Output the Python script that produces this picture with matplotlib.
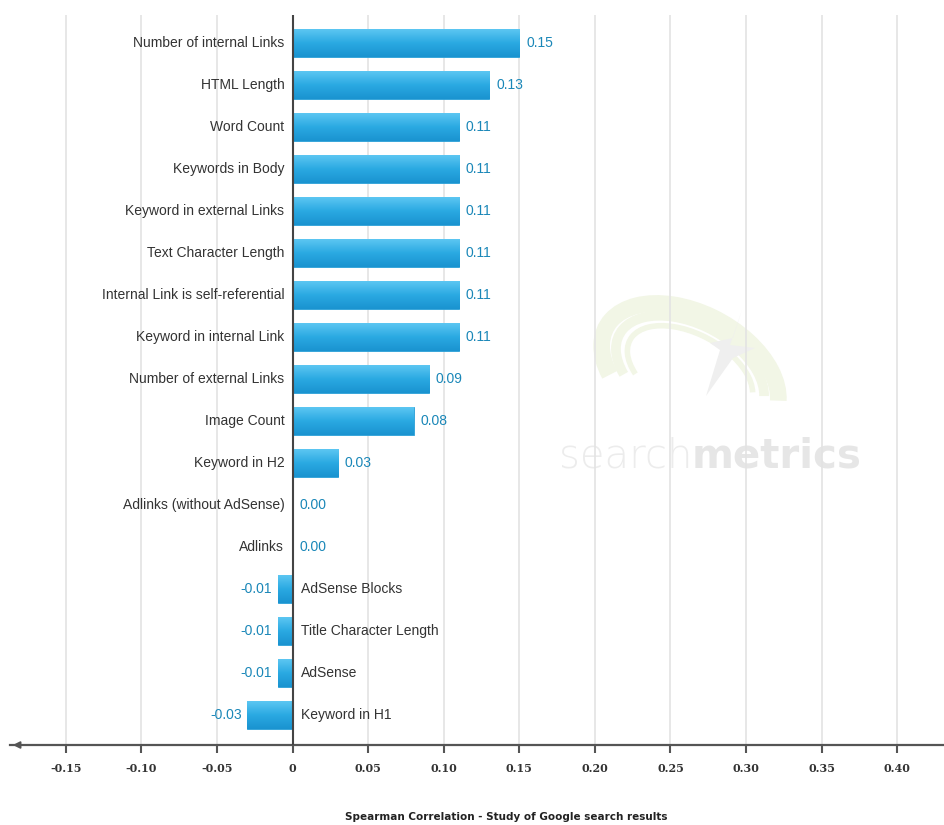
import matplotlib
matplotlib.use("Agg")
import matplotlib.pyplot as plt
from matplotlib.patches import Arc, Polygon
import numpy as np

# data
categories = [
    "Number of internal Links", "HTML Length", "Word Count", "Keywords in Body",
    "Keyword in external Links", "Text Character Length",
    "Internal Link is self-referential", "Keyword in internal Link",
    "Number of external Links", "Image Count", "Keyword in H2",
    "Adlinks (without AdSense)", "Adlinks", "AdSense Blocks",
    "Title Character Length", "AdSense", "Keyword in H1",
]
values = [0.15, 0.13, 0.11, 0.11, 0.11, 0.11, 0.11, 0.11,
          0.09, 0.08, 0.03, 0.00, 0.00, -0.01, -0.01, -0.01, -0.03]
xticks = [-0.15, -0.10, -0.05, 0, 0.05, 0.10, 0.15, 0.20, 0.25, 0.30, 0.35, 0.40]
xlabel = "Spearman Correlation - Study of Google search results"

label_font = "Liberation Sans"
val_color = "#1a87b8"
txt_color = "#333333"

W, H = 944, 825
fig = plt.figure(figsize=(W / 100, H / 100), dpi=100)

# watermark axes (pixel coords), sits behind the chart
wm = fig.add_axes([0, 0, 1, 1], zorder=0)
wm.set_xlim(0, W)
wm.set_ylim(H, 0)
wm.axis("off")
for w, h, lw in [(190, 118, 12), (160, 95, 7), (136, 76, 4)]:
    wm.add_patch(Arc((690, 372), w, h, angle=28, theta1=150, theta2=350,
                     color="#f2f6e6", lw=lw))
wm.add_patch(Polygon([[742, 310], [730, 345], [755, 348], [733, 358],
                      [706, 396], [720, 350], [710, 343], [733, 338]],
                     closed=True, color="#efefef", lw=0))
wm.text(692, 456, "search", fontsize=29, color="#ececec", ha="right",
        va="center", family="DejaVu Sans", fontweight="light")
wm.text(692, 456, "metrics", fontsize=29, color="#e6e6e6", ha="left",
        va="center", family="DejaVu Sans", fontweight="bold")

ax = fig.add_axes([10 / W, 80 / H, 934 / W, 730 / H], zorder=1)
ax.patch.set_alpha(0)

y = np.arange(len(categories))
ax.set_xlim(-0.187, 0.431)
ax.set_ylim(len(categories) - 1 + 0.714, -0.667)

# grid
for t in xticks:
    if t != 0:
        ax.axvline(t, color="#e3e3e3", lw=1.2, zorder=0)

# bars with vertical gradient
bars = ax.barh(y, values, height=0.65, color="#29a8e0", edgecolor="#2a9fd6",
               lw=0.6, zorder=2)
grad = np.linspace(0, 1, 64).reshape(-1, 1)
cmap = matplotlib.colors.LinearSegmentedColormap.from_list(
    "bar", ["#5cc6f2", "#2aa9e2", "#1a93d0"])
for b in bars:
    x0, y0, wd, ht = b.get_x(), b.get_y(), b.get_width(), b.get_height()
    if wd == 0:
        continue
    im = ax.imshow(grad, cmap=cmap, aspect="auto", zorder=2.5,
                   extent=(x0, x0 + wd, y0 + ht, y0))
    im.set_clip_path(b)

ax.axvline(0, color="#444444", lw=1.5, zorder=3)

# labels
for yi, v, c in zip(y, values, categories):
    if v < 0:
        ax.annotate(c, (0, yi), xytext=(6, 0), textcoords="offset points",
                    ha="left", va="center", fontsize=10, color=txt_color,
                    family=label_font)
        ax.annotate(f"{v:.2f}", (v, yi), xytext=(-4, 0),
                    textcoords="offset points", ha="right", va="center",
                    fontsize=10, color=val_color, family=label_font)
    else:
        ax.annotate(c, (0, yi), xytext=(-6, 0), textcoords="offset points",
                    ha="right", va="center", fontsize=10, color=txt_color,
                    family=label_font)
        ax.annotate(f"{v:.2f}", (v, yi), xytext=(5, 0),
                    textcoords="offset points", ha="left", va="center",
                    fontsize=10, color=val_color, family=label_font)

# axis
for s in ["top", "right", "left"]:
    ax.spines[s].set_visible(False)
ax.spines["bottom"].set_color("#555555")
ax.spines["bottom"].set_linewidth(1.6)
ax.set_yticks([])
ax.set_xticks(xticks)
ax.set_xticklabels(["0" if t == 0 else f"{t:.2f}" for t in xticks],
                   fontsize=8, fontweight="bold", color="#333333",
                   family="DejaVu Serif")
ax.tick_params(axis="x", direction="out", length=6, width=1.5,
               color="#555555", pad=7)
ax.annotate("", xy=(0, 0), xycoords="axes fraction", xytext=(0.012, 0),
            arrowprops=dict(arrowstyle="-|>", color="#555555", lw=1.4,
                            mutation_scale=10), annotation_clip=False)

fig.text(506 / W, 1 - 817 / H, xlabel, ha="center", va="center",
         fontsize=7.5, fontweight="bold", color="#222222", family="DejaVu Sans")

fig.savefig("out.png", dpi=100, facecolor="white")
